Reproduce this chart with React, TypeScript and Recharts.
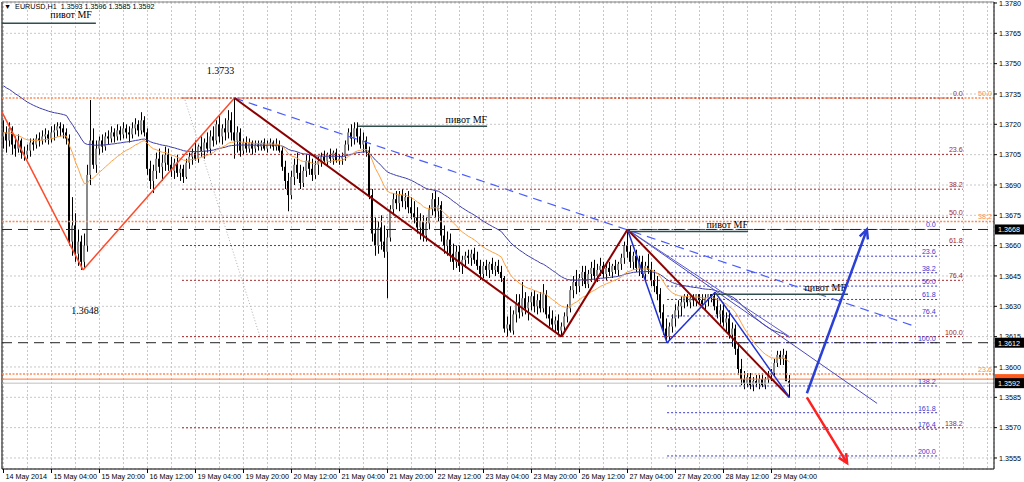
import { Bar, CartesianGrid, ComposedChart, Line, ReferenceDot, ReferenceLine, XAxis, YAxis } from "recharts";

// EURUSD H1, prices in pips (3712 -> 1.3712)
const opens = [
  3714, 3716, 3712, 3718, 3710, 3708, 3712, 3706, 3705, 3707,
  3711, 3710, 3713, 3712, 3714, 3715, 3713, 3716, 3717, 3719,
  3718, 3716, 3713, 3662, 3670, 3656, 3662, 3652, 3660, 3695,
  3712, 3700, 3708, 3712, 3709, 3714, 3713, 3716, 3714, 3717,
  3715, 3718, 3716, 3715, 3718, 3720, 3717, 3722, 3716, 3698,
  3692, 3697, 3703, 3699, 3701, 3705, 3700, 3697, 3701, 3696,
  3698, 3694, 3701, 3704, 3706, 3703, 3709, 3707, 3711, 3708,
  3714, 3712, 3720, 3714, 3718, 3716, 3722, 3716, 3712, 3716,
  3707, 3711, 3708, 3711, 3708, 3710, 3709, 3711, 3708, 3710,
  3711, 3709, 3710, 3707, 3699, 3692, 3685, 3694, 3700, 3696,
  3691, 3697, 3702, 3698, 3695, 3700, 3702, 3704, 3702, 3705,
  3703, 3706, 3702, 3703, 3704, 3710, 3716, 3713, 3718, 3714,
  3710, 3712, 3707, 3685, 3666, 3660, 3669, 3662, 3657, 3664,
  3678, 3683, 3681, 3685, 3682, 3684, 3679, 3676, 3674, 3669,
  3672, 3665, 3671, 3678, 3683, 3677, 3680, 3665, 3660, 3663,
  3656, 3652, 3657, 3650, 3653, 3655, 3654, 3656, 3653, 3650,
  3646, 3650, 3648, 3651, 3648, 3650, 3647, 3644, 3619, 3621,
  3618, 3626, 3632, 3627, 3634, 3629, 3632, 3635, 3630, 3633,
  3629, 3636, 3626, 3624, 3621, 3623, 3618, 3620, 3625, 3629,
  3638, 3642, 3640, 3644, 3647, 3641, 3646, 3649, 3645, 3648,
  3650, 3646, 3649, 3647, 3650, 3648, 3651, 3654, 3660, 3657,
  3652, 3655, 3649, 3652, 3646, 3650, 3648, 3643, 3640, 3636,
  3627, 3619, 3615, 3620, 3624, 3628, 3630, 3632, 3635, 3632,
  3634, 3633, 3636, 3633, 3631, 3634, 3636, 3635, 3630, 3626,
  3628, 3622, 3624, 3616, 3619, 3609, 3599, 3594, 3592, 3595,
  3591, 3593, 3592, 3594, 3591, 3594, 3596, 3597, 3602, 3606,
  3604, 3606, 3593,
];
const highs = [
  3722, 3719, 3721, 3719, 3714, 3715, 3713, 3709, 3710, 3713,
  3713, 3715, 3716, 3717, 3718, 3717, 3719, 3720, 3721, 3721,
  3720, 3718, 3715, 3684, 3676, 3668, 3665, 3666, 3700, 3732,
  3718, 3712, 3714, 3715, 3716, 3717, 3719, 3718, 3720, 3719,
  3721, 3720, 3719, 3721, 3723, 3722, 3726, 3724, 3718, 3702,
  3700, 3706, 3708, 3705, 3709, 3708, 3704, 3703, 3705, 3700,
  3700, 3703, 3706, 3708, 3712, 3710, 3714, 3713, 3716, 3717,
  3719, 3722, 3724, 3720, 3723, 3727, 3726, 3733, 3719, 3718,
  3713, 3714, 3713, 3712, 3712, 3712, 3712, 3713, 3712, 3713,
  3712, 3713, 3712, 3709, 3702, 3696, 3697, 3703, 3706, 3700,
  3699, 3705, 3705, 3703, 3702, 3704, 3706, 3707, 3706, 3708,
  3707, 3708, 3705, 3706, 3712, 3718, 3720, 3721, 3721, 3718,
  3716, 3714, 3709, 3688, 3674, 3672, 3675, 3670, 3668, 3680,
  3686, 3687, 3687, 3688, 3686, 3687, 3684, 3682, 3679, 3676,
  3675, 3674, 3680, 3686, 3687, 3684, 3682, 3670, 3667, 3666,
  3661, 3660, 3660, 3655, 3657, 3658, 3658, 3659, 3657, 3653,
  3652, 3653, 3652, 3654, 3652, 3653, 3650, 3645, 3625, 3630,
  3628, 3636, 3636, 3642, 3637, 3635, 3637, 3638, 3636, 3637,
  3641, 3638, 3630, 3628, 3625, 3626, 3622, 3627, 3631, 3640,
  3645, 3648, 3646, 3650, 3650, 3648, 3652, 3653, 3651, 3654,
  3652, 3651, 3652, 3651, 3653, 3652, 3656, 3662, 3668, 3660,
  3657, 3658, 3655, 3655, 3652, 3656, 3652, 3648, 3645, 3639,
  3631, 3624, 3622, 3626, 3631, 3633, 3635, 3636, 3636, 3635,
  3636, 3636, 3636, 3636, 3636, 3636, 3636, 3637, 3634, 3631,
  3632, 3627, 3628, 3622, 3621, 3612, 3604, 3598, 3597, 3597,
  3595, 3596, 3596, 3597, 3595, 3598, 3599, 3604, 3608, 3608,
  3609, 3608, 3596,
];
const lows = [
  3708, 3706, 3709, 3705, 3704, 3706, 3703, 3702, 3703, 3704,
  3707, 3708, 3709, 3710, 3711, 3710, 3711, 3712, 3714, 3714,
  3713, 3710, 3660, 3655, 3652, 3650, 3648, 3649, 3657, 3690,
  3698, 3696, 3705, 3706, 3707, 3710, 3711, 3711, 3712, 3712,
  3713, 3713, 3711, 3713, 3715, 3714, 3715, 3714, 3695, 3688,
  3686, 3693, 3696, 3692, 3697, 3697, 3694, 3693, 3694, 3692,
  3691, 3693, 3698, 3700, 3702, 3701, 3704, 3703, 3706, 3705,
  3709, 3710, 3711, 3710, 3712, 3713, 3712, 3703, 3706, 3704,
  3705, 3706, 3706, 3705, 3706, 3707, 3707, 3707, 3706, 3708,
  3707, 3707, 3706, 3697, 3688, 3677, 3683, 3690, 3693, 3688,
  3689, 3694, 3695, 3692, 3693, 3695, 3699, 3700, 3699, 3701,
  3700, 3701, 3700, 3700, 3702, 3707, 3709, 3710, 3711, 3708,
  3706, 3704, 3683, 3662, 3655, 3656, 3658, 3654, 3634, 3662,
  3675, 3678, 3677, 3679, 3678, 3676, 3673, 3671, 3666, 3663,
  3662, 3662, 3668, 3675, 3674, 3672, 3662, 3656, 3655, 3652,
  3648, 3649, 3647, 3646, 3649, 3651, 3650, 3651, 3648, 3643,
  3644, 3645, 3644, 3646, 3645, 3646, 3642, 3617, 3615, 3617,
  3616, 3622, 3624, 3625, 3626, 3623, 3628, 3627, 3626, 3627,
  3627, 3624, 3620, 3618, 3617, 3616, 3615, 3618, 3622, 3627,
  3634, 3636, 3637, 3640, 3639, 3639, 3642, 3643, 3642, 3645,
  3644, 3643, 3645, 3644, 3646, 3645, 3648, 3651, 3654, 3649,
  3648, 3647, 3645, 3644, 3643, 3646, 3640, 3637, 3633, 3624,
  3616, 3612, 3613, 3617, 3620, 3624, 3625, 3629, 3630, 3629,
  3630, 3630, 3631, 3629, 3628, 3630, 3632, 3628, 3624, 3621,
  3620, 3617, 3614, 3610, 3606, 3596, 3591, 3589, 3590, 3589,
  3588, 3590, 3589, 3590, 3589, 3592, 3593, 3595, 3600, 3601,
  3601, 3593, 3585,
];
const closes = [
  3716, 3712, 3718, 3710, 3708, 3712, 3706, 3705, 3707, 3711,
  3710, 3713, 3712, 3714, 3715, 3713, 3716, 3717, 3719, 3718,
  3716, 3713, 3662, 3670, 3656, 3662, 3652, 3660, 3695, 3712,
  3700, 3708, 3712, 3709, 3714, 3713, 3716, 3714, 3717, 3715,
  3718, 3716, 3715, 3718, 3720, 3717, 3722, 3716, 3698, 3692,
  3697, 3703, 3699, 3701, 3705, 3700, 3697, 3701, 3696, 3698,
  3694, 3701, 3704, 3706, 3703, 3709, 3707, 3711, 3708, 3714,
  3712, 3720, 3714, 3718, 3716, 3722, 3716, 3712, 3716, 3707,
  3711, 3708, 3711, 3708, 3710, 3709, 3711, 3708, 3710, 3711,
  3709, 3710, 3707, 3699, 3692, 3685, 3694, 3700, 3696, 3691,
  3697, 3702, 3698, 3695, 3700, 3702, 3704, 3702, 3705, 3703,
  3706, 3702, 3703, 3704, 3710, 3716, 3713, 3718, 3714, 3710,
  3712, 3707, 3685, 3666, 3660, 3669, 3662, 3657, 3664, 3678,
  3683, 3681, 3685, 3682, 3684, 3679, 3676, 3674, 3669, 3672,
  3665, 3671, 3678, 3683, 3677, 3680, 3665, 3660, 3663, 3656,
  3652, 3657, 3650, 3653, 3655, 3654, 3656, 3653, 3650, 3646,
  3650, 3648, 3651, 3648, 3650, 3647, 3644, 3619, 3621, 3618,
  3626, 3632, 3627, 3634, 3629, 3632, 3635, 3630, 3633, 3629,
  3636, 3626, 3624, 3621, 3623, 3618, 3620, 3625, 3629, 3638,
  3642, 3640, 3644, 3647, 3641, 3646, 3649, 3645, 3648, 3650,
  3646, 3649, 3647, 3650, 3648, 3651, 3654, 3660, 3657, 3652,
  3655, 3649, 3652, 3646, 3650, 3648, 3643, 3640, 3636, 3627,
  3619, 3615, 3620, 3624, 3628, 3630, 3632, 3635, 3632, 3634,
  3633, 3636, 3633, 3631, 3634, 3636, 3635, 3630, 3626, 3628,
  3622, 3624, 3616, 3619, 3609, 3599, 3594, 3592, 3595, 3591,
  3593, 3592, 3594, 3591, 3594, 3596, 3597, 3602, 3606, 3604,
  3606, 3593, 3592,
];

// one label every 16 bars, grid every 8
const timeLabels = [
  "14 May 2014", "15 May 04:00", "15 May 20:00", "16 May 12:00", "19 May 04:00",
  "19 May 20:00", "20 May 12:00", "21 May 04:00", "21 May 20:00", "22 May 12:00",
  "23 May 04:00", "23 May 20:00", "26 May 12:00", "27 May 04:00", "27 May 20:00",
  "28 May 12:00", "29 May 04:00",
];
const priceTicks = [3555, 3570, 3585, 3600, 3615, 3630, 3645, 3660, 3675, 3690, 3705, 3720, 3735, 3750, 3765, 3780];

// moving averages (fast orange, slow blue): period and value before the first bar
const maFast = { period: 21, seed: 3716 };
const maSlow = { period: 50, seed: 3740 };

// fibo sets: [price at 0, price at 100], levels in %
const fibA = { p0: 3733, p100: 3615, levels: [0, 23.6, 38.2, 50, 61.8, 76.4, 100, 138.2] };
const fibB = { p0: 3474.5, p100: 3991.5, levels: [50, 38.2, 23.6] };
const fibC = { p0: 3668, p100: 3612, levels: [0, 23.6, 38.2, 50, 61.8, 76.4, 100, 138.2, 161.8, 176.4, 200] };

// drawn objects, [bar, pips]
const redZigzag = [[-0.5, 3726], [26.5, 3648], [77, 3733]];
const maroonZigzag = [[77, 3733], [186, 3615], [208, 3668], [262, 3585]];
const blueZigzag = [[208, 3668], [221.2, 3612], [237.2, 3637], [262, 3585]];
const blueDashed = [[77, 3733], [304, 3620]];
const thinBlueLong = [[208, 3668], [291.2, 3582]];
const thinBlueShort = [[208, 3668], [262, 3615]];
const grayDotted = [[60.5, 3732], [85.5, 3615]];
const upArrow = [[267.8, 3587], [287.8, 3668]];
const downArrow = [[267.8, 3585], [281.2, 3552.5]];
const pivots = [
  { from: -0.5, to: 30.8, price: 3770, dx: -4, dy: -5 },
  { from: 118.2, to: 161.2, price: 3719, dx: 0, dy: -3 },
  { from: 207.8, to: 248.2, price: 3667, dx: 0, dy: -3 },
  { from: 237.2, to: 281.5, price: 3636, dx: -2, dy: -3 },
];
const hLines = { dashed: [3668, 3612], ask: 3594, bid: 3592 };

const X_MIN = -0.5;
const X_MAX = 330.17;
const Y_MIN = 1.354955;
const Y_MAX = 1.378049;
const SANS = "'Liberation Sans', Arial, sans-serif";
const SERIF = "'Liberation Serif', 'Times New Roman', serif";
const FS = 7.2;

const px = (v: number) => 1 + v / 10000;

function ema(src: number[], seed: number, period: number) {
  const k = 2 / (period + 1);
  let e = seed;
  return src.map((c) => (e = e + k * (c - e)));
}

const fast = ema(closes, maFast.seed, maFast.period);
const slow = ema(closes, maSlow.seed, maSlow.period);

const data = closes.map((c, i) => ({
  i,
  o: px(opens[i]),
  h: px(highs[i]),
  l: px(lows[i]),
  c: px(c),
  hl: [px(lows[i]), px(highs[i])],
  fast: px(fast[i]),
  slow: px(slow[i]),
}));

const gridTicks = Array.from({ length: 42 }, (_, k) => k * 8);

function Candle(props: any) {
  const { x, y, width, height, payload } = props;
  if (!payload) return null;
  const { o, h, l, c } = payload;
  const cx = Math.round(x + width / 2);
  const span = h - l;
  const yy = (v: number) => (span === 0 ? y : y + ((h - v) / span) * height);
  const top = yy(Math.max(o, c));
  const bot = yy(Math.min(o, c));
  return (
    <g>
      <line x1={cx + 0.5} x2={cx + 0.5} y1={y} y2={y + height} stroke="#000" strokeWidth={1} />
      <rect x={cx - 1} y={top} width={2} height={Math.max(1, bot - top)} fill={c >= o ? "#8a8a8a" : "#000"} />
    </g>
  );
}

function TimeTick(props: any) {
  const { x, y, payload } = props;
  const k = payload.value / 16;
  if (!Number.isInteger(k) || k >= timeLabels.length) return <g />;
  return (
    <g>
      <line x1={x} x2={x} y1={y} y2={y + 4} stroke="#000" />
      <text x={x + 2} y={y + 10} fontSize={FS} fontFamily={SANS} fill="#000">
        {timeLabels[k]}
      </text>
    </g>
  );
}

const seg = (pts: number[][], key: string, stroke: string, w: number, dash?: string) =>
  pts.slice(1).map((p, k) => (
    <ReferenceLine
      key={key + k}
      segment={[{ x: pts[k][0], y: px(pts[k][1]) }, { x: p[0], y: px(p[1]) }]}
      stroke={stroke}
      strokeWidth={w}
      strokeDasharray={dash}
      ifOverflow="visible"
    />
  ));

const hline = (key: string, from: number, to: number, price: number, stroke: string, w: number, dash?: string) => (
  <ReferenceLine
    key={key}
    segment={[{ x: from, y: px(price) }, { x: to, y: px(price) }]}
    stroke={stroke}
    strokeWidth={w}
    strokeDasharray={dash}
    ifOverflow="visible"
  />
);

const arrow = (pts: number[][], key: string, color: string) => (
  <ReferenceLine
    key={key}
    segment={[{ x: pts[0][0], y: px(pts[0][1]) }, { x: pts[1][0], y: px(pts[1][1]) }]}
    ifOverflow="visible"
    shape={(p: any) => {
      const { x1, y1, x2, y2 } = p;
      const a = Math.atan2(y2 - y1, x2 - x1);
      const L = 10;
      const s = 0.45;
      const h1 = `${x2 - L * Math.cos(a - s)},${y2 - L * Math.sin(a - s)}`;
      const h2 = `${x2 - L * Math.cos(a + s)},${y2 - L * Math.sin(a + s)}`;
      return (
        <g>
          <line x1={x1} y1={y1} x2={x2} y2={y2} stroke={color} strokeWidth={2.5} />
          <polyline points={`${h1} ${x2},${y2} ${h2}`} fill="none" stroke={color} strokeWidth={2.5} />
        </g>
      );
    }}
  />
);

const label = (
  key: string,
  x: number,
  price: number,
  text: string,
  opts: { dx?: number; dy?: number; anchor?: string; color?: string; size?: number; family?: string } = {},
) => (
  <ReferenceDot
    key={key}
    x={x}
    y={px(price)}
    r={1}
    ifOverflow="visible"
    shape={(p: any) => (
      <text
        x={p.cx + (opts.dx ?? 0)}
        y={p.cy + (opts.dy ?? 0)}
        textAnchor={(opts.anchor ?? "start") as any}
        fontSize={opts.size ?? FS}
        fontFamily={opts.family ?? SANS}
        fill={opts.color ?? "#000"}
      >
        {text}
      </text>
    )}
  />
);

const priceBox = (key: string, price: number, bg: string, withText = true) => (
  <ReferenceDot
    key={key}
    x={X_MAX}
    y={px(price)}
    r={1}
    ifOverflow="visible"
    shape={(p: any) => (
      <g>
        <rect x={p.cx + 1} y={p.cy - 5} width={29} height={10} fill={bg} />
        {withText && (
          <text x={p.cx + 4} y={p.cy + 3} fontSize={FS} fontFamily={SANS} fill="#fff">
            {px(price).toFixed(4)}
          </text>
        )}
      </g>
    )}
  />
);

const fibLines = (
  fib: { p0: number; p100: number; levels: number[] },
  key: string,
  from: number,
  to: number,
  labelAt: number,
  color: string,
  w: number,
  dash: string,
) =>
  fib.levels.map((r) => {
    const p = fib.p0 + (r / 100) * (fib.p100 - fib.p0);
    return [
      hline(key + r, from, to, p, color, w, dash),
      label(key + "t" + r, labelAt, p, r.toFixed(1), { anchor: "end", dy: -2, color }),
    ];
  });

const last = data.length - 1;

export default function App() {
  return (
    <div style={{ position: "absolute", left: 0, top: 0, width: 1024, height: 482, background: "#fff" }}>
      <ComposedChart width={1024} height={482} data={data} margin={{ top: 2, right: 0, bottom: 0, left: 2 }}>
        <CartesianGrid stroke="#c8c8c8" strokeDasharray="2 2" />
        <XAxis
          dataKey="i"
          type="number"
          domain={[X_MIN, X_MAX]}
          allowDataOverflow
          ticks={gridTicks}
          interval={0}
          tick={(p: any) => <TimeTick {...p} />}
          tickLine={false}
          tickSize={0}
          tickMargin={0}
          height={13}
          axisLine={{ stroke: "#000" }}
        />
        <YAxis
          orientation="right"
          type="number"
          domain={[Y_MIN, Y_MAX]}
          allowDataOverflow
          ticks={priceTicks.map(px)}
          interval={0}
          tickFormatter={(v: number) => v.toFixed(4)}
          width={30}
          tickSize={3}
          tickMargin={2}
          tick={{ fontSize: FS, fill: "#000", fontFamily: SANS }}
          axisLine={{ stroke: "#000" }}
          tickLine={{ stroke: "#000" }}
        />
        <ReferenceLine x={X_MIN} stroke="#000" ifOverflow="visible" />
        <ReferenceLine y={Y_MAX} stroke="#808080" ifOverflow="visible" />

        {fibLines(fibB, "fb", X_MIN, X_MAX, 329.5, "#ff8a55", 1.5, "2 1.5")}
        {fibLines(fibA, "fa", 59.5, 319.8, 319.8, "#a52a2a", 1, "2 2")}
        {hline("c0", 208, 311.2, fibC.p0, "#3a3ad0", 1, "6 2 2 2")}
        {fibLines({ ...fibC, levels: fibC.levels.slice(1) }, "fc", 221.2, 311.2, 310.8, "#3a3ad0", 1, "2 2")}
        {label("c0t", 310.8, fibC.p0, "0.0", { anchor: "end", dy: -2, color: "#3a3ad0" })}
        {hLines.dashed.map((p) => hline("d" + p, X_MIN, X_MAX, p, "#222", 1, "10 6"))}
        {hline("ask", X_MIN, X_MAX, hLines.ask, "#ff7a3a", 1)}
        {hline("bid", X_MIN, X_MAX, hLines.bid, "#c0c0c0", 1)}

        <Bar dataKey="hl" shape={Candle} barSize={3} isAnimationActive={false} />
        <Line dataKey="slow" type="linear" stroke="#3d3dab" strokeWidth={1} dot={false} activeDot={false} isAnimationActive={false} />
        <Line dataKey="fast" type="linear" stroke="#ffa040" strokeWidth={1} dot={false} activeDot={false} isAnimationActive={false} />

        {seg(grayDotted, "gd", "#b0b0b0", 1, "1 2")}
        {seg(blueDashed, "bd", "#4a5cff", 1.2, "9 6")}
        {seg(thinBlueLong, "tb", "#4848c0", 1)}
        {seg(thinBlueShort, "ts", "#5a5ad0", 1)}
        {seg(redZigzag, "rz", "#ff4a2a", 1.5)}
        {seg(maroonZigzag, "mz", "#8b0000", 2)}
        {seg(blueZigzag, "bz", "#2030d0", 1.5)}
        {pivots.map((p, k) => [
          hline("pv" + k, p.from, p.to, p.price, "#2f4f4f", 1.5),
          label("pvt" + k, p.to, p.price, "пивот MF", { anchor: "end", dx: p.dx, dy: p.dy, size: 10, family: SERIF }),
        ])}
        {label("hi", redZigzag[2][0], redZigzag[2][1], "1.3733", { anchor: "middle", dx: -14, dy: -24, size: 10, family: SERIF })}
        {label("lo", redZigzag[1][0], redZigzag[1][1], "1.3648", { anchor: "middle", dx: 2, dy: 44, size: 10, family: SERIF })}
        {arrow(upArrow, "ua", "#2a3fd6")}
        {arrow(downArrow, "da", "#ff2020")}

        {priceBox("b1", hLines.dashed[0], "#000")}
        {priceBox("b2", hLines.dashed[1], "#000")}
        {priceBox("b3", hLines.ask, "#ff5a1a", false)}
        {priceBox("b4", hLines.bid, "#000")}
      </ComposedChart>
      <div style={{ position: "absolute", left: 4, top: 2, fontSize: FS, fontFamily: SANS, color: "#000", whiteSpace: "pre" }}>
        {"▼  EURUSD,H1  " + [data[last].o, data[last].h, data[last].l, data[last].c].map((v) => v.toFixed(4)).join(" ")}
      </div>
    </div>
  );
}
